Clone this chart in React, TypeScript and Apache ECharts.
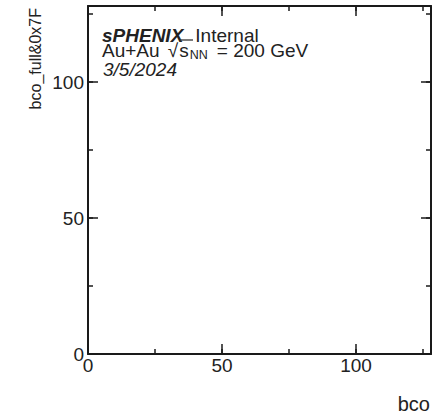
import React, { useEffect, useRef } from 'react';
import * as echarts from 'echarts';

// ---- data (empty 2D histogram: bco_full&0x7F vs bco) ----
const X_RANGE: number[] = [0, 128];
const Y_RANGE: number[] = [0, 128];
const MAJOR_STEP = 50;
const MINOR_STEP = 25;
const X_TITLE = 'bco';
const Y_TITLE = 'bco_full&0x7F';
const EXPERIMENT = 'sPHENIX';
const STATUS = 'Internal';
const SYSTEM = 'Au+Au';
const ENERGY = '= 200 GeV';
const DATE = '3/5/2024';
const HIST_ENTRIES: number[][] = [];

const FONT = '"Liberation Sans", Arial, Helvetica, sans-serif';
const INK = '#1a1a1a';
const TXT = '#222';
const HDR = 19;

function makeAxis(
  position: string,
  range: number[],
  interval: number,
  tickLen: number,
  showLine: boolean,
  labels: boolean,
  vertical: boolean
) {
  return {
    type: 'value',
    position,
    min: range[0],
    max: range[1],
    interval,
    axisLine: { show: showLine, onZero: false, lineStyle: { color: INK, width: 2 } },
    axisTick: { show: true, inside: true, length: tickLen, lineStyle: { color: INK, width: 1.5 } },
    axisLabel: labels
      ? {
          show: true,
          fontFamily: FONT,
          fontSize: 19,
          color: TXT,
          margin: vertical ? 4 : 2,
          formatter: (v: number) => (v % MAJOR_STEP === 0 ? String(v) : ''),
        }
      : { show: false },
    splitLine: { show: false },
  };
}

export default function App() {
  const ref = useRef<HTMLDivElement>(null);
  useEffect(() => {
    if (!ref.current) return;
    const chart = echarts.init(ref.current, undefined, { renderer: 'svg' });
    chart.setOption({
      animation: false,
      backgroundColor: '#fff',
      grid: { left: 88, right: 5, top: 6, bottom: 62, containLabel: false, outerBoundsMode: 'none' },
      xAxis: [
        makeAxis('bottom', X_RANGE, MAJOR_STEP, 10, true, true, false),
        makeAxis('bottom', X_RANGE, MINOR_STEP, 5, false, false, false),
        makeAxis('top', X_RANGE, MAJOR_STEP, 10, true, false, false),
        makeAxis('top', X_RANGE, MINOR_STEP, 5, false, false, false),
      ],
      yAxis: [
        makeAxis('left', Y_RANGE, MAJOR_STEP, 10, true, true, true),
        makeAxis('left', Y_RANGE, MINOR_STEP, 5, false, false, true),
        makeAxis('right', Y_RANGE, MAJOR_STEP, 10, true, false, true),
        makeAxis('right', Y_RANGE, MINOR_STEP, 5, false, false, true),
      ],
      series: [
        {
          type: 'scatter',
          xAxisIndex: 0,
          yAxisIndex: 0,
          data: HIST_ENTRIES,
          symbolSize: 2,
          itemStyle: { color: '#000' },
        },
      ],
      graphic: [
        {
          type: 'text',
          x: 43,
          y: 8,
          rotation: Math.PI / 2,
          style: {
            text: Y_TITLE,
            font: `16px ${FONT}`,
            fill: TXT,
            align: 'right',
            verticalAlign: 'bottom',
          },
        },
        {
          type: 'text',
          x: 430,
          y: 403.5,
          style: {
            text: X_TITLE,
            font: `20px ${FONT}`,
            fill: TXT,
            align: 'right',
            verticalAlign: 'middle',
          },
        },
        {
          type: 'text',
          x: 102,
          y: 26,
          style: {
            text: `{b|${EXPERIMENT}}{n|${STATUS}}`,
            fill: TXT,
            align: 'left',
            verticalAlign: 'top',
            rich: {
              b: { fontFamily: FONT, fontSize: HDR, fontWeight: 'bold', fontStyle: 'italic', lineHeight: 14, verticalAlign: 'top', fill: TXT },
              n: { fontFamily: FONT, fontSize: HDR, lineHeight: 14, padding: [0, 0, 0, 12], verticalAlign: 'top', fill: TXT },
            },
          },
        },
        {
          type: 'line',
          shape: { x1: 180, y1: 40, x2: 193, y2: 40 },
          style: { stroke: '#333', lineWidth: 1.3 },
        },
        {
          type: 'text',
          x: 102,
          y: 41,
          style: {
            text: `{n|${SYSTEM} }{r|\u221A}{n|s}{s|NN}{e|${ENERGY}}`,
            fill: TXT,
            align: 'left',
            verticalAlign: 'top',
            rich: {
              n: { fontFamily: FONT, fontSize: HDR, lineHeight: 17, verticalAlign: 'top', fill: TXT },
              r: { fontFamily: FONT, fontSize: HDR, lineHeight: 17, padding: [0, 1, 0, 3], verticalAlign: 'top', fill: TXT },
              s: { fontFamily: FONT, fontSize: 12.5, lineHeight: 12, padding: [7, 0, 0, 1], verticalAlign: 'top', fill: TXT },
              e: { fontFamily: FONT, fontSize: HDR, lineHeight: 17, padding: [0, 0, 0, 9], verticalAlign: 'top', fill: TXT },
            },
          },
        },
        {
          type: 'text',
          x: 103,
          y: 69.5,
          style: {
            text: DATE,
            font: `italic 19px ${FONT}`,
            fill: TXT,
            align: 'left',
            verticalAlign: 'middle',
          },
        },
      ],
    });
    return () => chart.dispose();
  }, []);
  return (
    <div
      ref={ref}
      style={{ position: 'absolute', left: 0, top: 0, width: 436, height: 416, background: '#fff' }}
    />
  );
}
